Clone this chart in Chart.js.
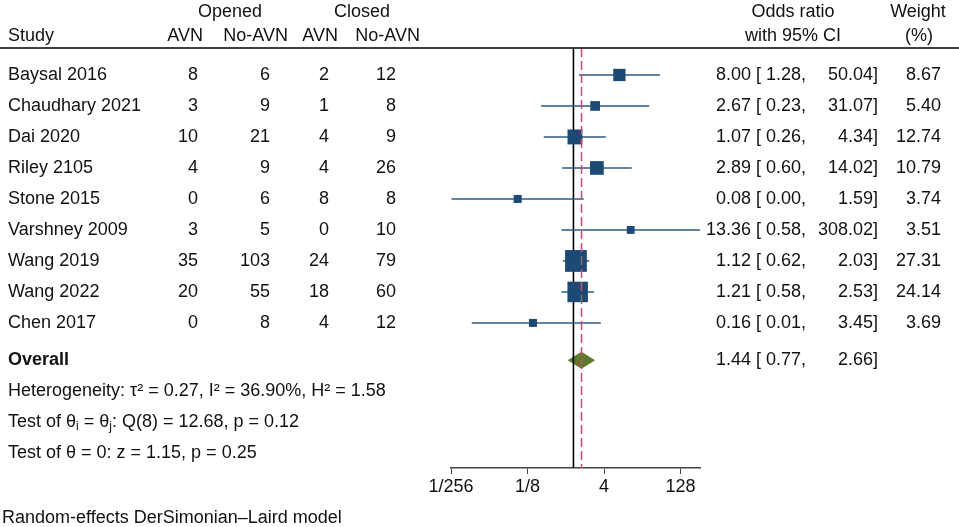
<!DOCTYPE html>
<html>
<head>
<meta charset="utf-8">
<script src="https://cdn.jsdelivr.net/npm/chart.js@4/dist/chart.umd.min.js"></script>
<style>
  html, body { margin: 0; padding: 0; background: #fff; }
  #wrap { width: 959px; height: 527px; position: relative; }
</style>
</head>
<body>
<div id="wrap"><canvas id="forest"></canvas></div>
<script>
'use strict';

// Data
const studies = ['Baysal 2016', 'Chaudhary 2021', 'Dai 2020', 'Riley 2105', 'Stone 2015',
    'Varshney 2009', 'Wang 2019', 'Wang 2022', 'Chen 2017'];
const openedAvn = [8, 3, 10, 4, 0, 3, 35, 20, 0];
const openedNoAvn = [6, 9, 21, 9, 6, 5, 103, 55, 8];
const closedAvn = [2, 1, 4, 4, 8, 0, 24, 18, 4];
const closedNoAvn = [12, 8, 9, 26, 8, 10, 79, 60, 12];
const oddsRatio = [8.00, 2.67, 1.07, 2.89, 0.08, 13.36, 1.12, 1.21, 0.16];
const ciLower = [1.28, 0.23, 0.26, 0.60, 0.004, 0.58, 0.62, 0.58, 0.01];
const ciUpper = [50.04, 31.07, 4.34, 14.02, 1.59, 308.02, 2.03, 2.53, 3.45];
const ciLowerText = ['1.28', '0.23', '0.26', '0.60', '0.00', '0.58', '0.62', '0.58', '0.01'];
const weights = [8.67, 5.40, 12.74, 10.79, 3.74, 3.51, 27.31, 24.14, 3.69];
const overall = [1.44, 0.77, 2.66];   // estimate, lower, upper
const tickValues = [1 / 256, 1 / 8, 4, 128];
const tickLabels = ['1/256', '1/8', '4', '128'];

const log2 = (v) => Math.log(v) / Math.LN2;

const FONT = '18px "Liberation Sans", Arial, Helvetica, sans-serif';
const BOLD = 'bold 18px "Liberation Sans", Arial, Helvetica, sans-serif';
const OVERALL_ROW = 9.2;
const markerColor = '#1d4a74';
const ciColor = '#2d5b84';

// one line per study CI
const ciSets = studies.map((s, i) => ({
    type: 'line',
    data: [{ x: log2(ciLower[i]), y: i }, { x: log2(ciUpper[i]), y: i }],
    borderColor: ciColor,
    borderWidth: 1.6,
    pointRadius: 0,
    order: 3
}));

const yMin = -0.87, yMax = 12.68;

const forestText = {
    id: 'forestText',
    beforeDatasetsDraw(chart) {
        // overall diamond, drawn through the scales
        const { ctx, scales: { x, y } } = chart;
        const yc = y.getPixelForValue(OVERALL_ROW);
        ctx.save();
        ctx.fillStyle = '#5b7a2c';
        ctx.beginPath();
        ctx.moveTo(x.getPixelForValue(log2(overall[1])), yc);
        ctx.lineTo(x.getPixelForValue(log2(overall[0])), yc - 8.5);
        ctx.lineTo(x.getPixelForValue(log2(overall[2])), yc);
        ctx.lineTo(x.getPixelForValue(log2(overall[0])), yc + 8.5);
        ctx.closePath();
        ctx.fill();
        ctx.restore();
    },
    afterDraw(chart) {
        const { ctx, scales: { y } } = chart;
        ctx.save();
        ctx.fillStyle = '#111';
        ctx.textBaseline = 'middle';
        ctx.font = FONT;

        // header
        ctx.textAlign = 'center';
        ctx.fillText('Opened', 230, 12);
        ctx.fillText('Closed', 362, 12);
        ctx.fillText('Odds ratio', 793, 12);
        ctx.fillText('with 95% CI', 793, 36);
        ctx.fillText('Weight', 918, 12);
        ctx.fillText('(%)', 919, 36);
        ctx.textAlign = 'left';
        ctx.fillText('Study', 8, 36);
        ctx.textAlign = 'right';
        ctx.fillText('AVN', 203, 36);
        ctx.fillText('No-AVN', 288, 36);
        ctx.fillText('AVN', 338, 36);
        ctx.fillText('No-AVN', 420, 36);

        // header rule
        ctx.strokeStyle = '#000';
        ctx.lineWidth = 1.5;
        ctx.beginPath();
        ctx.moveTo(0, 48);
        ctx.lineTo(959, 48);
        ctx.stroke();

        studies.forEach((s, i) => {
            const yy = y.getPixelForValue(i);
            ctx.textAlign = 'left';
            ctx.fillText(s, 8, yy);
            ctx.textAlign = 'right';
            ctx.fillText(String(openedAvn[i]), 198, yy);
            ctx.fillText(String(openedNoAvn[i]), 270, yy);
            ctx.fillText(String(closedAvn[i]), 329, yy);
            ctx.fillText(String(closedNoAvn[i]), 396, yy);
            ctx.fillText(oddsRatio[i].toFixed(2), 751, yy);
            ctx.textAlign = 'left';
            ctx.fillText('[ ' + ciLowerText[i] + ',', 756, yy);
            ctx.textAlign = 'right';
            ctx.fillText(ciUpper[i].toFixed(2) + ']', 878, yy);
            ctx.fillText(weights[i].toFixed(2), 941, yy);
        });

        const yo = y.getPixelForValue(OVERALL_ROW);
        ctx.font = BOLD;
        ctx.textAlign = 'left';
        ctx.fillText('Overall', 8, yo);
        ctx.font = FONT;
        ctx.textAlign = 'right';
        ctx.fillText(overall[0].toFixed(2), 751, yo);
        ctx.textAlign = 'left';
        ctx.fillText('[ ' + overall[1].toFixed(2) + ',', 756, yo);
        ctx.textAlign = 'right';
        ctx.fillText(overall[2].toFixed(2) + ']', 878, yo);

        ctx.textAlign = 'left';
        ctx.fillText('Heterogeneity: \u03C4\u00B2 = 0.27, I\u00B2 = 36.90%, H\u00B2 = 1.58', 8, y.getPixelForValue(OVERALL_ROW + 1));
        // θi = θj with subscripts
        const ty = y.getPixelForValue(OVERALL_ROW + 2);
        let cx = 8;
        const put = (t, dy, f) => {
            ctx.font = f || FONT;
            ctx.fillText(t, cx, ty + (dy || 0));
            cx += ctx.measureText(t).width;
        };
        put('Test of \u03B8');
        put('i', 5, '12px "Liberation Sans", Arial, sans-serif');
        put(' = \u03B8');
        put('j', 5, '12px "Liberation Sans", Arial, sans-serif');
        put(': Q(8) = 12.68, p = 0.12');
        ctx.font = FONT;
        ctx.fillText('Test of \u03B8 = 0: z = 1.15, p = 0.25', 8, y.getPixelForValue(OVERALL_ROW + 3));
        ctx.fillText('Random-effects DerSimonian\u2013Laird model', 2, 518);
        ctx.restore();
    }
};

new Chart(document.getElementById('forest'), {
    type: 'scatter',
    data: {
        datasets: [
            {
                // study point estimates, box area by weight
                type: 'scatter',
                data: oddsRatio.map((v, i) => ({ x: log2(v), y: i })),
                pointStyle: 'rect',
                pointRadius: weights.map((w) => 2.95 * Math.sqrt(w)),
                backgroundColor: markerColor,
                borderColor: markerColor,
                borderWidth: 0,
                order: 1
            },
            ...ciSets,
            {
                // no effect line at OR = 1
                type: 'line',
                data: [{ x: 0, y: yMin }, { x: 0, y: yMax }],
                borderColor: '#000',
                borderWidth: 1.6,
                pointRadius: 0,
                order: 5
            },
            {
                // overall effect
                type: 'line',
                data: [{ x: log2(overall[0]), y: yMin }, { x: log2(overall[0]), y: yMax }],
                borderColor: '#d2476f',
                borderWidth: 1.5,
                borderDash: [9, 4],
                pointRadius: 0,
                order: 0
            }
        ]
    },
    options: {
        responsive: true,
        maintainAspectRatio: false,
        animation: false,
        layout: {
            padding: { left: 451, right: 259, top: 48, bottom: 29 }
        },
        plugins: {
            legend: { display: false },
            tooltip: { enabled: false }
        },
        scales: {
            x: {
                type: 'linear',
                min: log2(tickValues[0]),
                max: log2(ciUpper[5]),
                afterBuildTicks: (scale) => {
                    scale.ticks = tickValues.map((v) => ({ value: log2(v) }));
                },
                afterFit: (scale) => { scale.height = 30; },
                ticks: {
                    color: '#111',
                    font: { family: '"Liberation Sans", Arial, sans-serif', size: 18 },
                    padding: 2,
                    maxRotation: 0,
                    callback: (val) => {
                        const idx = tickValues.findIndex((v) => Math.abs(log2(v) - val) < 1e-6);
                        return idx >= 0 ? tickLabels[idx] : '';
                    }
                },
                grid: {
                    drawOnChartArea: false,
                    drawTicks: true,
                    tickLength: 6,
                    color: '#444'
                },
                border: { display: true, color: '#444', width: 1.6 }
            },
            y: {
                type: 'linear',
                display: false,
                reverse: true,
                min: yMin,
                max: yMax
            }
        }
    },
    plugins: [forestText]
});
</script>
</body>
</html>
